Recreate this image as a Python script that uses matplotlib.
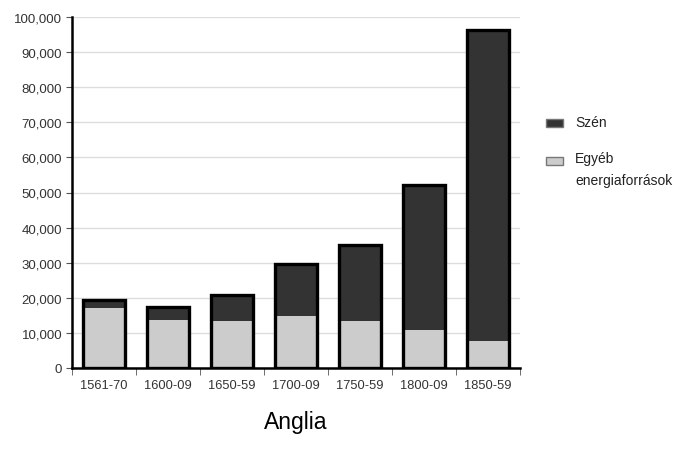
import matplotlib
matplotlib.use("Agg")
import matplotlib.pyplot as plt
from matplotlib.patches import Rectangle
from matplotlib.ticker import FuncFormatter

categories = ["1561-70", "1600-09", "1650-59", "1700-09", "1750-59", "1800-09", "1850-59"]
other = [17100, 13800, 13500, 14900, 13500, 10800, 7800]
total = [19300, 17300, 20700, 29700, 35100, 52200, 96400]
coal = [t - o for t, o in zip(total, other)]
legend_labels = ["Szén", "Egyéb\nenergiaforrások"]

plt.rcParams['font.family'] = ['Liberation Sans', 'DejaVu Sans']

W, H = 697, 452
fig = plt.figure(figsize=(W/100, H/100), dpi=100)
ax = fig.add_axes([72/W, 1-369/H, (520-72)/W, (369-18)/H])

x = list(range(len(categories)))
w = 0.66
dark = "#333333"
light = "#cccccc"
ax.bar(x, other, width=w, color=light, edgecolor="none", zorder=3)
ax.bar(x, coal, bottom=other, width=w, color=dark, edgecolor="none", zorder=3)
ax.bar(x, total, width=w, facecolor="none", edgecolor="black", linewidth=2.4, zorder=4)

ax.set_xlim(-0.5, len(categories) - 0.5)
ax.set_ylim(0, 100000)
ax.set_yticks(range(0, 100001, 10000))
ax.yaxis.set_major_formatter(FuncFormatter(lambda v, p: f"{int(v):,}"))
ax.set_xticks(x)
ax.set_xticklabels(categories)
ax.set_xticks([i - 0.5 for i in range(len(categories) + 1)], minor=True)
ax.tick_params(axis='x', which='major', length=0, pad=8, labelsize=9.3, colors="#333333")
ax.tick_params(axis='x', which='minor', length=5, color="#555555")
ax.tick_params(axis='y', length=4, color="#555555", labelsize=9.5, labelcolor="#333333", pad=3)
ax.grid(axis='y', color="#dddddd", linewidth=1, zorder=0)
for s in ["top", "right"]:
    ax.spines[s].set_visible(False)
ax.spines["left"].set_linewidth(1.8)
ax.spines["bottom"].set_linewidth(1.8)

fig.text(296/W, 1-423/H, "Anglia", ha="center", va="center", fontsize=16.5)

# legend drawn manually
for col, ytop, lab, ytxt in [(dark, 120, legend_labels[0], 123), (light, 158, legend_labels[1], 170)]:
    fig.patches.append(Rectangle((546/W, 1-(ytop+8)/H), 17/W, 8/H, transform=fig.transFigure,
                                 facecolor=col, edgecolor="#777777", linewidth=1))
    fig.text(575/W, 1-ytxt/H, lab, ha="left", va="center", fontsize=10, color="#222222",
             linespacing=1.75)

fig.savefig("out.png", dpi=100, facecolor="white")
